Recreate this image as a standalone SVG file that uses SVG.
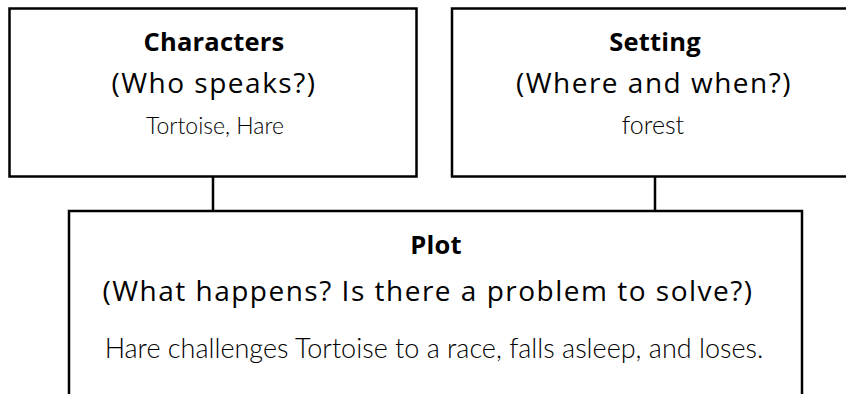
<svg xmlns="http://www.w3.org/2000/svg" width="846" height="394" viewBox="0 0 846 394">
<style>
.box{fill:#fff;stroke:#000;stroke-width:2.5}
.con{fill:none;stroke:#000;stroke-width:2.5}
.h{font-family:"Open Sans","Noto Sans",sans-serif;font-weight:bold;font-size:25.5px;letter-spacing:0.2px;text-anchor:middle;fill:#000}
.q{font-family:"Open Sans","Noto Sans",sans-serif;font-size:28px;letter-spacing:1.5px;text-anchor:middle;fill:#000}
.a{font-family:"Lato","Noto Sans",sans-serif;font-weight:300;font-size:27px;text-anchor:middle;fill:#000}
</style>
<rect width="846" height="394" fill="#fff"/>
<g id="connectors">
<line class="con" x1="213" y1="176" x2="213" y2="211"/>
<line class="con" x1="655" y1="176" x2="655" y2="211"/>
</g>
<g id="characters">
<rect class="box" x="9.5" y="8.5" width="407" height="168"/>
<text class="h" x="214" y="51">Characters</text>
<text class="q" x="214" y="93">(Who speaks?)</text>
<text class="a" x="215" y="134" style="font-size:23px">Tortoise, Hare</text>
</g>
<g id="setting">
<rect class="box" x="452" y="8.5" width="410" height="168"/>
<text class="h" x="655" y="51">Setting</text>
<text class="q" x="654" y="93">(Where and when?)</text>
<text class="a" x="653" y="134" style="font-size:25px">forest</text>
</g>
<g id="plot">
<rect class="box" x="69" y="211" width="733" height="200"/>
<text class="h" x="436" y="254">Plot</text>
<text class="q" x="428" y="301">(What happens? Is there a problem to solve?)</text>
<text class="a" x="434" y="358">Hare challenges Tortoise to a race, falls asleep, and loses.</text>
</g>
</svg>
